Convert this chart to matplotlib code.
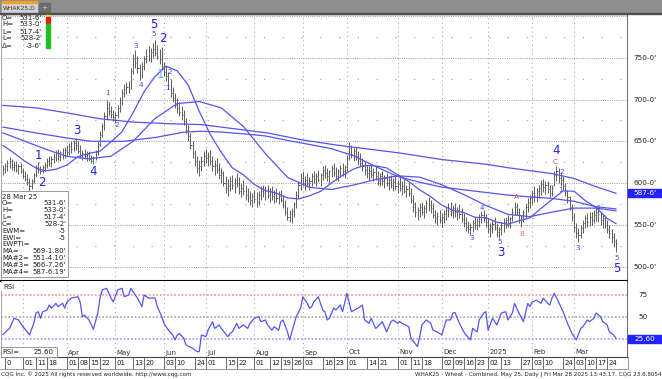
import matplotlib
matplotlib.use("Agg")
import matplotlib.pyplot as plt
import matplotlib.transforms as mtransforms
from matplotlib.patches import Rectangle
from matplotlib.lines import Line2D
import pandas as pd

W, H = 662, 379
DPI = 100

# daily bars, WHAK25 (cents)
highs = [
    622, 624, 628, 631, 629, 627, 626, 623, 624, 618,
    615, 611, 606, 605, 612, 622, 625, 621, 622, 625,
    630, 633, 632, 636, 640, 641, 639, 642, 643, 646,
    648, 650, 652, 654, 650, 645, 640, 641, 638, 639,
    634, 633, 640, 650, 662, 672, 685, 699, 697, 692,
    688, 685, 693, 703, 712, 718, 721, 722, 738, 755,
    759, 752, 742, 745, 752, 760, 764, 762, 768, 771,
    765, 760, 763, 745, 740, 733, 724, 715, 708, 702,
    697, 692, 687, 678, 670, 660, 650, 640, 632, 628,
    632, 638, 641, 637, 640, 633, 628, 630, 624, 618,
    615, 608, 605, 608, 610, 606, 612, 607, 600, 604,
    598, 594, 590, 588, 592, 589, 590, 596, 598, 596,
    598, 594, 597, 592, 594, 590, 592, 586, 580, 572,
    568, 570, 578, 590, 602, 612, 614, 608, 612, 607,
    612, 615, 612, 616, 612, 620, 622, 618, 616, 622,
    624, 619, 617, 622, 624, 622, 634, 649, 646, 642,
    643, 638, 636, 630, 626, 622, 620, 622, 618, 620,
    614, 612, 614, 610, 612, 608, 610, 606, 608, 604,
    607, 602, 605, 598, 600, 594, 586, 578, 572, 576,
    578, 574, 580, 583, 580, 576, 568, 566, 568, 564,
    568, 572, 576, 577, 574, 576, 572, 575, 570, 564,
    560, 555, 552, 556, 560, 558, 563, 567, 568, 563,
    558, 552, 556, 560, 552, 548, 553, 558, 560, 562,
    560, 570, 578, 576, 570, 562, 568, 575, 582, 586,
    592, 596, 594, 598, 604, 605, 602, 603, 598, 598,
    614, 621, 618, 612, 608, 600, 592, 585, 575, 564,
    552, 546, 550, 556, 562, 564, 565, 566, 568, 571,
    570, 566, 562, 562, 556, 550, 545, 540, 533,
]
lows = [
    610, 612, 615, 618, 616, 614, 613, 611, 612, 606,
    602, 598, 591, 593, 600, 607, 612, 611, 612, 615,
    618, 620, 619, 624, 626, 628, 627, 629, 630, 633,
    634, 636, 638, 640, 636, 630, 628, 629, 627, 626,
    624, 623, 628, 634, 644, 655, 664, 676, 682, 678,
    674, 672, 678, 685, 694, 703, 707, 708, 712, 730,
    738, 732, 723, 726, 735, 744, 746, 745, 750, 752,
    748, 742, 735, 728, 722, 712, 703, 697, 690, 684,
    680, 676, 670, 660, 650, 641, 630, 620, 612, 608,
    615, 620, 624, 620, 622, 615, 610, 612, 605, 600,
    596, 588, 585, 590, 593, 588, 595, 587, 583, 586,
    580, 578, 574, 572, 576, 572, 574, 580, 583, 580,
    582, 578, 580, 576, 578, 575, 577, 570, 562, 556,
    553, 552, 560, 570, 582, 592, 596, 592, 596, 592,
    596, 600, 597, 601, 597, 604, 606, 603, 600, 607,
    608, 604, 602, 607, 609, 606, 614, 628, 630, 626,
    628, 622, 620, 614, 610, 606, 604, 606, 602, 604,
    598, 596, 598, 594, 596, 592, 594, 590, 592, 588,
    590, 586, 588, 583, 584, 576, 566, 560, 556, 560,
    562, 558, 564, 567, 564, 558, 552, 550, 552, 548,
    552, 556, 560, 561, 558, 560, 556, 558, 553, 548,
    543, 540, 538, 541, 545, 544, 548, 552, 553, 548,
    540, 536, 540, 544, 536, 534, 538, 542, 546, 548,
    546, 555, 562, 562, 552, 548, 553, 558, 565, 570,
    575, 578, 578, 582, 586, 589, 587, 588, 583, 584,
    596, 603, 600, 596, 592, 584, 576, 568, 555, 542,
    534, 530, 534, 540, 546, 548, 549, 550, 552, 555,
    554, 550, 546, 546, 540, 534, 528, 524, 517.5,
]
closes = [
    617, 620, 624, 626, 619, 622, 616, 620, 614, 609,
    605, 601, 596, 602, 610, 619, 616, 614, 619, 622,
    627, 624, 629, 631, 636, 632, 637, 634, 640, 637,
    644, 641, 648, 645, 639, 634, 636, 632, 635, 629,
    627, 631, 637, 647, 658, 668, 680, 690, 686, 683,
    679, 681, 690, 699, 708, 712, 715, 713, 734, 748,
    744, 738, 729, 740, 748, 752, 750, 757, 760, 756,
    752, 748, 740, 733, 728, 717, 708, 702, 694, 690,
    685, 681, 674, 664, 656, 646, 636, 626, 618, 620,
    627, 633, 630, 632, 627, 620, 622, 616, 610, 612,
    600, 594, 597, 602, 598, 604, 600, 591, 594, 590,
    586, 583, 580, 585, 581, 578, 586, 591, 588, 592,
    586, 590, 584, 588, 582, 585, 580, 574, 566, 560,
    563, 567, 575, 586, 598, 606, 600, 604, 599, 603,
    608, 605, 609, 604, 610, 616, 612, 609, 614, 618,
    612, 609, 614, 618, 615, 619, 630, 642, 635, 638,
    632, 630, 624, 620, 616, 612, 615, 610, 613, 608,
    604, 608, 602, 606, 600, 604, 598, 601, 596, 599,
    594, 597, 591, 593, 588, 580, 572, 566, 568, 571,
    566, 570, 576, 574, 570, 562, 558, 561, 556, 560,
    563, 568, 571, 566, 570, 565, 568, 563, 557, 552,
    548, 545, 547, 552, 550, 555, 559, 562, 558, 553,
    545, 548, 551, 546, 541, 545, 550, 553, 556, 552,
    558, 566, 572, 566, 556, 559, 565, 572, 578, 582,
    588, 585, 590, 594, 599, 595, 598, 593, 588, 594,
    610, 614, 606, 604, 597, 588, 583, 572, 560, 548,
    540, 538, 546, 552, 558, 554, 560, 556, 562, 566,
    563, 556, 558, 550, 545, 540, 536, 531, 528.25,
]

# moving averages, sampled off the chart (bar number, value)
ma2_idx = [0, 5, 10, 15, 19, 24, 29, 34, 39, 44, 49, 54, 59, 64, 69, 74, 79, 84, 89,
           94, 99, 104, 109, 114, 119, 124, 129, 134, 139, 144, 149, 154, 159, 164,
           169, 174, 179, 184, 189, 194, 199, 204, 209, 214, 219, 224, 229, 234, 239,
           244, 249, 254, 259, 264, 269, 274, 278]
ma2_val = [645, 636, 626, 618, 614.6, 616.6, 621.6, 631.7, 635.5, 638.2, 649.5, 661.5,
           684.3, 709.3, 727.7, 739.9, 734.3, 717.4, 685.9, 658.3, 636.8, 618.3, 610,
           598.3, 591, 588, 582.3, 581, 584.8, 590.1, 600.3, 609.3, 616.9, 621.2, 620.6,
           618.2, 609.9, 602, 591.9, 583.7, 573.7, 567.4, 564.8, 559.1, 558.6, 553.3,
           550.8, 555, 558.4, 569.7, 580.3, 590.6, 590.3, 579.2, 570.7, 557.8, 551.5]
ma3_idx = [0, 10, 20, 29, 39, 49, 59, 69, 79, 89, 99, 109, 119, 129, 139, 149, 159,
           169, 179, 189, 199, 209, 219, 229, 239, 249, 259, 269, 278]
ma3_val = [660, 650, 640, 632, 629, 632.2, 650, 677.4, 695.1, 697.6, 690, 667.8, 635.3,
           607, 594.9, 592.4, 597.7, 604.3, 608.7, 607.1, 598.1, 586.3, 573.3, 562.6,
           559.9, 565.3, 570.1, 570.1, 566.9]
ma1_idx = [0, 15, 29, 40, 55, 70, 82, 90, 99, 109, 119, 129, 139, 149, 159, 169, 179,
           189, 199, 209, 219, 229, 239, 249, 259, 269, 278]
ma1_val = [667, 660, 654, 650, 650, 655, 661, 662, 661.1, 658.9, 656.4, 651.1, 646.2,
           641.2, 632.7, 619.8, 607.9, 601, 595.2, 592, 588.8, 585.7, 583.5, 581.7,
           578.2, 571.7, 569.2]
ma4_idx = [0, 15, 29, 44, 59, 76, 90, 105, 120, 135, 150, 165, 180, 199, 209, 219, 229,
           239, 249, 259, 269, 278]
ma4_val = [693, 690, 684, 677, 673, 671, 670, 665, 660, 652, 646, 641, 636, 628.2, 625.4,
           622.6, 618.4, 614.9, 611.4, 605.5, 595.7, 587.8]

rsi_idx = [0, 2, 3, 5, 7, 9, 11, 12, 14, 15, 16, 17, 18, 20, 21, 22, 24, 25, 27, 28,
           29, 31, 34, 35, 36, 37, 39, 41, 43, 44, 45, 47, 49, 50, 52, 54, 55, 57, 58, 60,
           61, 63, 64, 66, 68, 69, 70, 72, 73, 75, 77, 78, 79, 80, 82, 83, 86, 88, 89, 90,
           92, 93, 95, 96, 98, 99, 102, 103, 104, 106, 107, 109, 111, 112, 114, 116, 117, 119, 120, 122,
           123, 125, 126, 127, 129, 130, 131, 133, 135, 136, 138, 139, 140, 141, 143, 145, 146, 147, 148, 150,
           151, 153, 154, 156, 158, 161, 163, 164, 166, 167, 169, 170, 172, 174, 176, 177, 179, 180, 181, 184,
           185, 188, 189, 190, 192, 194, 195, 197, 199, 201, 203, 204, 205, 207, 209, 210, 212, 213, 215, 216,
           218, 219, 220, 222, 223, 224, 226, 228, 229, 231, 232, 233, 234, 236, 238, 239, 240, 242, 244, 245,
           247, 248, 249, 250, 252, 254, 256, 258, 260, 262, 263, 265, 266, 268, 269, 271, 272, 274, 275, 277,
           278]
rsi_val = [30, 35, 37, 48.5, 46.6, 39, 33, 29.5, 43, 54.5, 56, 48.5, 56, 58, 63.6, 60, 65.5, 61.7, 65.5, 60,
           67, 71.5, 73, 67, 50.4, 52, 46.6, 36, 54.5, 71.5, 80.7, 82.6, 71.5, 67, 80.7, 82.6, 73, 75, 82.6, 75,
           71.5, 61.7, 75, 71.5, 71.5, 71.5, 61.7, 50.4, 42.8, 35, 29.5, 23.9, 29.5, 31.4, 25.8, 18, 14.4, 10.6, 10.6, 29.5,
           27.6, 35, 44.7, 37, 40.9, 37, 27.6, 31.4, 33, 42.8, 37, 40.9, 37, 42.8, 48.5, 50.4, 44.7, 46.6, 40.9, 35,
           39, 35, 44.7, 46.6, 33, 23.9, 33, 50.4, 60, 73, 65.5, 60, 61.7, 67, 73, 58, 56, 46.6, 48.5, 60,
           58, 63.6, 56, 77, 56, 60, 63.6, 46.6, 42.8, 48.5, 37, 39, 44.7, 33, 44.7, 46.6, 42.8, 44.7, 42.8, 39,
           25.8, 16.3, 27.6, 40.9, 46.6, 42.8, 35, 33, 29.5, 46.6, 46.6, 54.5, 55, 42.8, 33, 29.5, 23.9, 37, 33, 46.6,
           54.5, 56, 35, 48.5, 44.7, 40.9, 54.5, 56, 46.6, 54.5, 65.5, 60, 54.5, 44.7, 65.5, 61.7, 67, 69, 65.5, 71.5,
           65.5, 63.6, 71.5, 77, 67, 56, 42.8, 31.4, 23.9, 37, 39, 46.6, 44.7, 48.5, 54.5, 50.4, 44.7, 40.9, 33, 29.5,
           25.6]

holidays = ["2024-02-19", "2024-03-29", "2024-05-27", "2024-06-19", "2024-07-04",
            "2024-09-02", "2024-11-28", "2024-12-25", "2025-01-01", "2025-01-09",
            "2025-01-20", "2025-02-17"]

day_ticks = ["2024-02-20", "2024-03-01", "2024-03-11", "2024-03-18", "2024-04-01",
             "2024-04-08", "2024-04-15", "2024-04-22", "2024-05-01", "2024-05-13",
             "2024-05-20", "2024-06-03", "2024-06-10", "2024-06-24", "2024-07-01",
             "2024-07-15", "2024-07-22", "2024-08-01", "2024-08-12", "2024-08-19",
             "2024-08-26", "2024-09-03", "2024-09-16", "2024-09-23", "2024-10-01",
             "2024-10-14", "2024-10-21", "2024-11-01", "2024-11-11", "2024-11-18",
             "2024-12-02", "2024-12-09", "2024-12-16", "2024-12-23", "2025-01-02",
             "2025-01-13", "2025-01-27", "2025-02-03", "2025-02-10", "2025-02-24",
             "2025-03-03", "2025-03-10", "2025-03-17", "2025-03-24"]
day_labels = ["0", "01", "11", "18", "01", "08", "15", "22", "01", "13", "20", "03", "10",
              "24", "01", "15", "22", "01", "12", "19", "26", "03", "16", "23", "01", "14",
              "21", "01", "11", "18", "02", "09", "16", "23", "02", "13", "27", "03", "10",
              "24", "03", "10", "17", "24"]
month_ticks = ["2024-04-01", "2024-05-01", "2024-06-03", "2024-07-01", "2024-08-01",
               "2024-09-03", "2024-10-01", "2024-11-01", "2024-12-02", "2025-01-02",
               "2025-02-03", "2025-03-03"]
month_labels = ["Apr", "May", "Jun", "Jul", "Aug", "Sep", "Oct", "Nov", "Dec", "2025",
                "Feb", "Mar"]

# Elliott wave marks: (text, bar, price)
big_waves = [("1", 15.9, 633.6), ("2", 17.7, 601.3), ("3", 33.6, 663.5), ("4", 40.8, 613.3),
             ("5", 68.5, 790.3), ("2", 72.6, 772.4), ("3", 225.9, 516.4), ("4", 250.8, 639.6),
             ("5", 278.5, 498.4)]
pale_waves = [("1", 71.2, 730.5)]
small_waves = [("1", 47.2, 707.8), ("2", 51.7, 669.5), ("3", 60.3, 764), ("4", 62.6, 717.3),
               ("5", 68.5, 778.4), ("2", 75.6, 732.9), ("1", 74.8, 713.8), ("3", 212.7, 534.3),
               ("4", 217.2, 570.2), ("5", 225.4, 529.5), ("2", 253.5, 613.3), ("1", 252.6, 591.7),
               ("3", 260.8, 522.4), ("4", 269.8, 570.2), ("5", 278.5, 510.4)]
abc_waves = [("A", 232.7, 583.4), ("B", 235.4, 539.1), ("C", 250.3, 625.2)]
abc_colors = ["#ff4848", "#ff7050", "#ff3838"]

price_ticks = [500, 550, 600, 650, 700, 750]


def fx(px):
    return px / W


def fy(py):
    return 1 - py / H


def box(x0, y0, x1, y1, **kw):
    fig.add_artist(Rectangle((fx(x0), fy(y1)), (x1 - x0) / W, (y1 - y0) / H,
                             transform=fig.transFigure, **kw))


def label(x, y, s, **kw):
    kw.setdefault("fontsize", 5)
    kw.setdefault("va", "center")
    kw.setdefault("color", "#222222")
    fig.text(fx(x), fy(y), s, **kw)


fig = plt.figure(figsize=(W / DPI, H / DPI), dpi=DPI)
fig.patch.set_facecolor("white")

ax = fig.add_axes([fx(1), fy(281), fx(627) - fx(1), fy(14) - fy(281)])
axr = fig.add_axes([fx(1), fy(357), fx(627) - fx(1), fy(281) - fy(357)], sharex=ax)

n = len(closes)
dates = pd.bdate_range(end="2025-03-28", periods=n, freq="C", holidays=holidays)
pos = {d.strftime("%Y-%m-%d"): i for i, d in enumerate(dates)}
idx = list(range(n))

ax.set_xlim(-0.9, n + 4)
ax.set_ylim(482.9, 802.3)
axr.set_ylim(4.5, 90.9)

# grid
for p in range(500, 801, 50):
    ax.axhline(p, color="#9c9c9c", lw=0.7, ls=(0, (1, 1.3)), zorder=0)
for p in range(525, 800, 50):
    ax.axhline(p, color="#a8a8a8", lw=0.9, ls=(0, (1, 14)), zorder=0)
for d in ["2024-03-01"] + month_ticks:
    for a in (ax, axr):
        a.axvline(pos[d], color="#a8a8a8", lw=0.8, ls=(0, (1, 3)), zorder=0)

# bars
ax.vlines(idx, lows, highs, color="#5c5c5c", lw=0.7, zorder=2)
ax.hlines(closes, idx, [i + 0.5 for i in idx], color="#5c5c5c", lw=0.7, zorder=2)

ma_col = "#5555f0"
for xs, ys in [(ma4_idx, ma4_val), (ma1_idx, ma1_val), (ma3_idx, ma3_val), (ma2_idx, ma2_val)]:
    ax.plot(xs, ys, color=ma_col, lw=0.9, zorder=3)

for t, i, p in big_waves:
    ax.text(i, p, t, color="#2020e8", fontsize=8.5, ha="center", va="center", zorder=5)
for t, i, p in pale_waves:
    ax.text(i, p, t, color="#6aa8ff", fontsize=8.5, ha="center", va="center", zorder=5)
for t, i, p in small_waves:
    ax.text(i, p, t, color="#4848f0", fontsize=5.2, ha="center", va="center", zorder=5)
for (t, i, p), c in zip(abc_waves, abc_colors):
    ax.text(i, p, t, color=c, fontsize=5.2, ha="center", va="center", zorder=5)

for a in (ax, axr):
    a.set_xticks([])
    a.set_yticks([])
    a.spines["left"].set_color("#999999")
    a.spines["left"].set_linewidth(0.6)
    a.spines["right"].set_color("#666666")
    a.spines["right"].set_linewidth(0.7)
ax.spines["top"].set_color("#333333")
ax.spines["top"].set_linewidth(0.9)
ax.spines["bottom"].set_color("black")
ax.spines["bottom"].set_linewidth(1.5)
axr.spines["top"].set_visible(False)
axr.spines["bottom"].set_color("#444444")
axr.spines["bottom"].set_linewidth(0.8)

# RSI panel
axr.axhline(75, color="#f4a0a0", lw=1.3, ls=(0, (1, 1)), zorder=1)
axr.axhline(50, color="#b0b0b0", lw=1.3, ls=(0, (1, 1)), zorder=1)
axr.axhline(25, color="#a8a8f8", lw=1.3, ls=(0, (1, 1)), zorder=1)
axr.plot(rsi_idx, rsi_val, color=ma_col, lw=0.9, zorder=3)

# right price scale
tr = mtransforms.blended_transform_factory(fig.transFigure, ax.transData)
for p in price_ticks:
    ax.text(fx(633), p, "%d-0'" % p, transform=tr, fontsize=5.2, va="center",
            ha="left", color="#222222", clip_on=False)
trr = mtransforms.blended_transform_factory(fig.transFigure, axr.transData)
for r in (75, 50):
    axr.text(fx(638), r, str(r), transform=trr, fontsize=5.2, va="center",
             ha="left", color="#222222", clip_on=False)

box(628, 189, 662, 197, color="#2222ff", zorder=4)
label(645, 193, "587-6'", ha="center", color="white", fontsize=5.2, zorder=5)
box(628, 335, 662, 343, color="#2222ff", zorder=4)
label(645, 339, "25.60", ha="center", color="white", fontsize=5.2, zorder=5)

# date row
td = mtransforms.blended_transform_factory(axr.transData, fig.transFigure)
for d, s in zip(day_ticks, day_labels):
    i = pos[d]
    fig.add_artist(Line2D([i, i], [fy(357), fy(369)], transform=td, color="#555555", lw=0.6))
    fig.text(i + 0.6, fy(363), s, transform=td, fontsize=5, va="center", ha="left",
             color="#222222")
for d, s in zip(month_ticks, month_labels):
    fig.text(pos[d] + 0.6, fy(352.5), s, transform=td, fontsize=5, va="center",
             ha="left", color="#333333")
fig.add_artist(Line2D([fx(0), fx(627)], [fy(369), fy(369)], transform=fig.transFigure,
                      color="#888888", lw=0.6))
fig.add_artist(Line2D([fx(627.5), fx(627.5)], [fy(357), fy(369)], transform=fig.transFigure,
                      color="#888888", lw=0.6))

# top bar
box(0, 0, 662, 13, color="#8e8e8e", zorder=4)
box(2, 2, 37, 13, color="#d2d2d2", zorder=4)
box(2, 1.3, 37, 2.6, color="#f0a030", zorder=5)
label(19.5, 8, "WHAK25,D", ha="center", fontsize=4.3, color="#333333", zorder=6)
box(39, 3, 50, 13, color="#6c6c6c", zorder=4)
label(44.5, 8, "+", ha="center", fontsize=5, color="#cccccc", zorder=6)
box(0, 13, 662, 14.3, color="#505050", zorder=4)

# top-left quote box
quote = [("O=", "531-6'"), ("H=", "533-0'"), ("L=", "517-4'"), ("L=", "528-2'"), ("\u0394=", "-3-6'")]
for k, (a, b) in enumerate(quote):
    y = 17.5 + 7 * k
    label(2, y, a, zorder=6)
    label(42, y, b, ha="right", zorder=6)
box(46, 15, 49.5, 17, color="#f0e020", zorder=5)
box(46, 17, 49.5, 24, color="#e02020", zorder=5)
box(46, 24, 49.5, 48, color="#20c020", zorder=5)

# bottom-left info box
box(0.5, 191, 68, 277, facecolor="white", edgecolor="#8a8a8a", lw=0.6, zorder=5)
info = [("28 Mar 25", ""), ("O=", "531-6'"), ("H=", "533-0'"), ("L=", "517-4'"),
        ("C=", "528-2'"), ("EWM=", "-5"), ("EWI=", "-5"), ("EWPTI=", ""),
        ("MA=", "569-1.80'"), ("MA#2=", "551-4.10'"), ("MA#3=", "566-7.26'"),
        ("MA#4=", "587-6.19'")]
for k, (a, b) in enumerate(info):
    y = 196.5 + 6.85 * k
    label(2, y, a, zorder=6)
    if b:
        label(66, y, b, ha="right", zorder=6)

# RSI labels
box(1, 283, 17, 291, facecolor="white", edgecolor="none", zorder=5)
label(3, 287, "RSI", zorder=6)
box(0.5, 347, 57, 357, facecolor="white", edgecolor="#8a8a8a", lw=0.6, zorder=5)
label(2, 352, "RSI=", zorder=6)
label(54, 352, "25.60", ha="right", zorder=6)

# footer
label(1, 374, "CQG Inc. \u00a9 2025 All rights reserved worldwide. http://www.cqg.com",
      fontsize=4.1)
label(661, 374, "WHAK25 - Wheat - Combined, May 25, Daily | Fri Mar 28 2025 13:43:17, CQG 23.6.8054",
      ha="right", fontsize=4.1)

fig.savefig("out.png", dpi=DPI)
